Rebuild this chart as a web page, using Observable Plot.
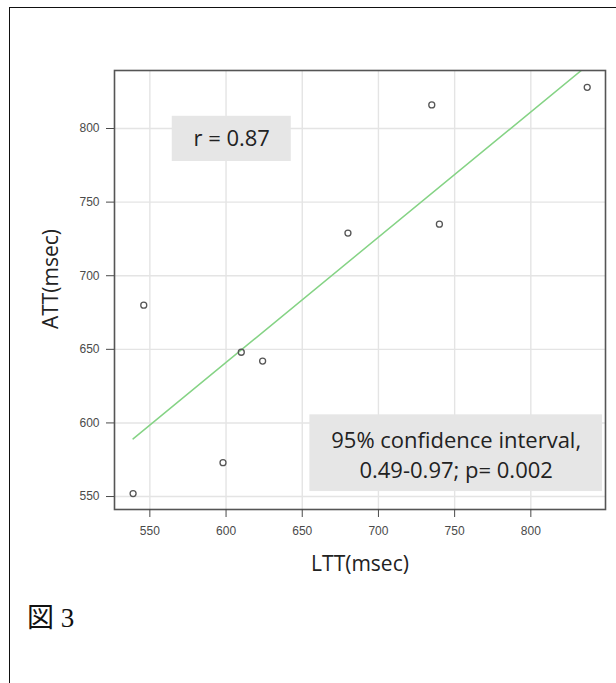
<!DOCTYPE html>
<html>
<head>
<meta charset="utf-8">
<script src="https://cdn.jsdelivr.net/npm/d3@7"></script>
<script src="https://cdn.jsdelivr.net/npm/@observablehq/plot@0.6"></script>
<style>
  html, body { margin: 0; padding: 0; background: #fff; overflow: hidden; }
  #wrap { position: relative; width: 616px; height: 683px; }
  #border { position: absolute; left: 9px; top: 7px; width: 800px; height: 900px;
            border-left: 1.6px solid #111; border-top: 1.6px solid #111; pointer-events: none; }
  #caption { position: absolute; left: 27px; top: 596px; font-family: "Liberation Serif", "Noto Sans CJK JP", serif;
             font-size: 27px; color: #111; }
</style>
</head>
<body>
<div id="wrap">
  <div id="chart"></div>
  <div id="caption">図 3</div>
  <div id="border"></div>
</div>
<script>
// Data
const ltt = [539, 546, 598, 610, 624, 680, 735, 740, 837];
const att = [552, 680, 573, 648, 642, 729, 816, 735, 828];
const xTicks = [550, 600, 650, 700, 750, 800];
const yTicks = [550, 600, 650, 700, 750, 800];
const xLabel = "LTT(msec)";
const yLabel = "ATT(msec)";
const rText = ["r = 0.87"];
const ciText = ["95% confidence interval,\n0.49-0.97; p= 0.002"];

const points = ltt.map((x, i) => ({x, y: att[i]}));

// Annotation boxes in data units
const rBox = [{x1: 564.7, x2: 642.8, y1: 777.6, y2: 808.3, tx: 603.7, ty: 793}];
const ciBox = [{x1: 655, x2: 847, y1: 553.4, y2: 605.5, tx: 751, ty: 579.4}];

const W = 616, H = 590;
const chart = Plot.plot({
  width: W,
  height: H,
  marginTop: 70,
  marginLeft: 114,
  marginRight: 11,
  marginBottom: H - 509,
  style: {background: "transparent"},
  x: {domain: [526.8, 849]},
  y: {domain: [541.2, 839.4]},
  marks: [
    Plot.gridX(xTicks, {stroke: "#e4e4e4", strokeOpacity: 1, strokeWidth: 1.4}),
    Plot.gridY(yTicks, {stroke: "#e4e4e4", strokeOpacity: 1, strokeWidth: 1.4}),
    Plot.rect(rBox, {x1: "x1", x2: "x2", y1: "y1", y2: "y2", fill: "#e6e6e6"}),
    Plot.rect(ciBox, {x1: "x1", x2: "x2", y1: "y1", y2: "y2", fill: "#e6e6e6"}),
    Plot.text(rBox, {x: "tx", y: "ty", text: () => rText[0], fontSize: 22, fontFamily: "Open Sans", fill: "#222"}),
    Plot.text(ciBox, {x: "tx", y: "ty", text: () => ciText[0], fontSize: 22, lineHeight: 1.36, lineAnchor: "middle", fontFamily: "Open Sans", fill: "#222"}),
    Plot.linearRegressionY(points, {x: "x", y: "y", ci: 0, stroke: "#85d385", strokeWidth: 1.5, clip: true}),
    Plot.dot(points, {x: "x", y: "y", r: 3, stroke: "#555", strokeWidth: 1.3, fill: "none"}),
    Plot.frame({stroke: "#555", strokeWidth: 1.6}),
    Plot.axisX({ticks: xTicks, tickSize: 8, tickPadding: 9, fontSize: 12, fontFamily: "Liberation Sans", color: "#4a4a4a", label: null}),
    Plot.axisY({ticks: yTicks, tickSize: 8, tickPadding: 7, fontSize: 12, fontFamily: "Liberation Sans", color: "#4a4a4a", label: null}),
    Plot.text([xLabel], {frameAnchor: "bottom", dy: 61, fontSize: 21, fontFamily: "Open Sans", fill: "#222"}),
    Plot.text([yLabel], {frameAnchor: "left", textAnchor: "middle", rotate: -90, dx: -63, dy: -11, fontSize: 21, fontFamily: "Open Sans", fill: "#222"})
  ]
});
document.getElementById("chart").appendChild(chart);
</script>
</body>
</html>
